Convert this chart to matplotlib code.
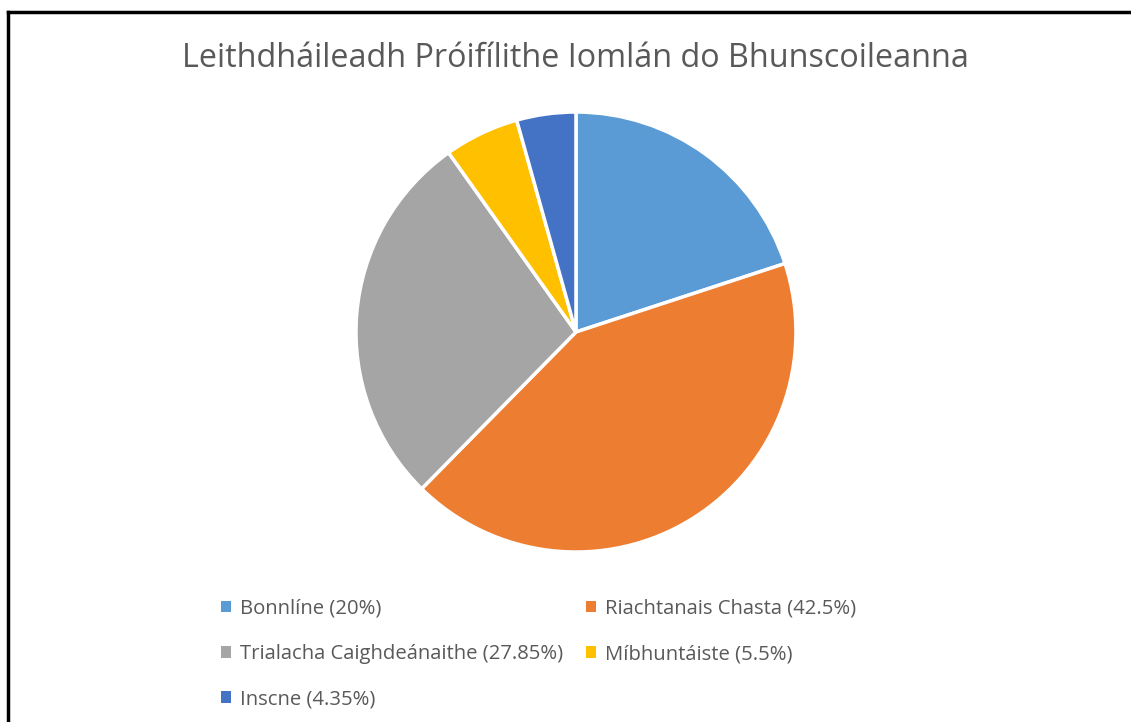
import matplotlib.pyplot as plt
from matplotlib.patches import Patch
from matplotlib.lines import Line2D

labels = ["Bonnlíne", "Riachtanais Chasta", "Trialacha Caighdeánaithe", "Míbhuntáiste", "Inscne"]
shares = [20, 42.5, 27.85, 5.5, 4.35]
share_text = ["20%", "42.5%", "27.85%", "5.5%", "4.35%"]
colours = ["#5B9BD5", "#ED7D31", "#A5A5A5", "#FFC000", "#4472C4"]

plt.rcParams['font.family'] = ['Open Sans', 'DejaVu Sans']

fig = plt.figure(figsize=(11.31, 7.22), dpi=100)

# pie
ax = fig.add_axes([0.3128, 0.2324, 0.3929, 0.6155])
ax.pie(shares, colors=colours, startangle=90, counterclock=False,
       wedgeprops=dict(edgecolor="white", linewidth=2.5))
ax.set_xlim(-1.01, 1.01)
ax.set_ylim(-1.01, 1.01)
ax.set_aspect("equal")

fig.text(0.509, 0.919, "Leithdháileadh Próifílithe Iomlán do Bhunscoileanna",
         ha="center", va="center", fontsize=23.3, color="#595959")

# legend, row-wise order for 2 columns
handles = [Patch(facecolor=c, edgecolor="none") for c in colours]
texts = [f"{l} ({s})" for l, s in zip(labels, share_text)]
order = [0, 2, 4, 1, 3]
fig.legend([handles[i] for i in order], [texts[i] for i in order],
           ncol=2, loc="upper left", bbox_to_anchor=(0.1882, 0.182),
           frameon=False, fontsize=14.6, labelcolor="#595959",
           handlelength=0.5, handleheight=0.5, handletextpad=0.45,
           columnspacing=1.1, labelspacing=1.25, borderaxespad=0)

# outer frame (only top and left visible)
fig.add_artist(Line2D([8 / 1131, 1], [1 - 12 / 722, 1 - 12 / 722], color="black", lw=2.5))
fig.add_artist(Line2D([8 / 1131, 8 / 1131], [0, 1 - 12 / 722], color="black", lw=2.5))

fig.savefig("out.png", dpi=100)
